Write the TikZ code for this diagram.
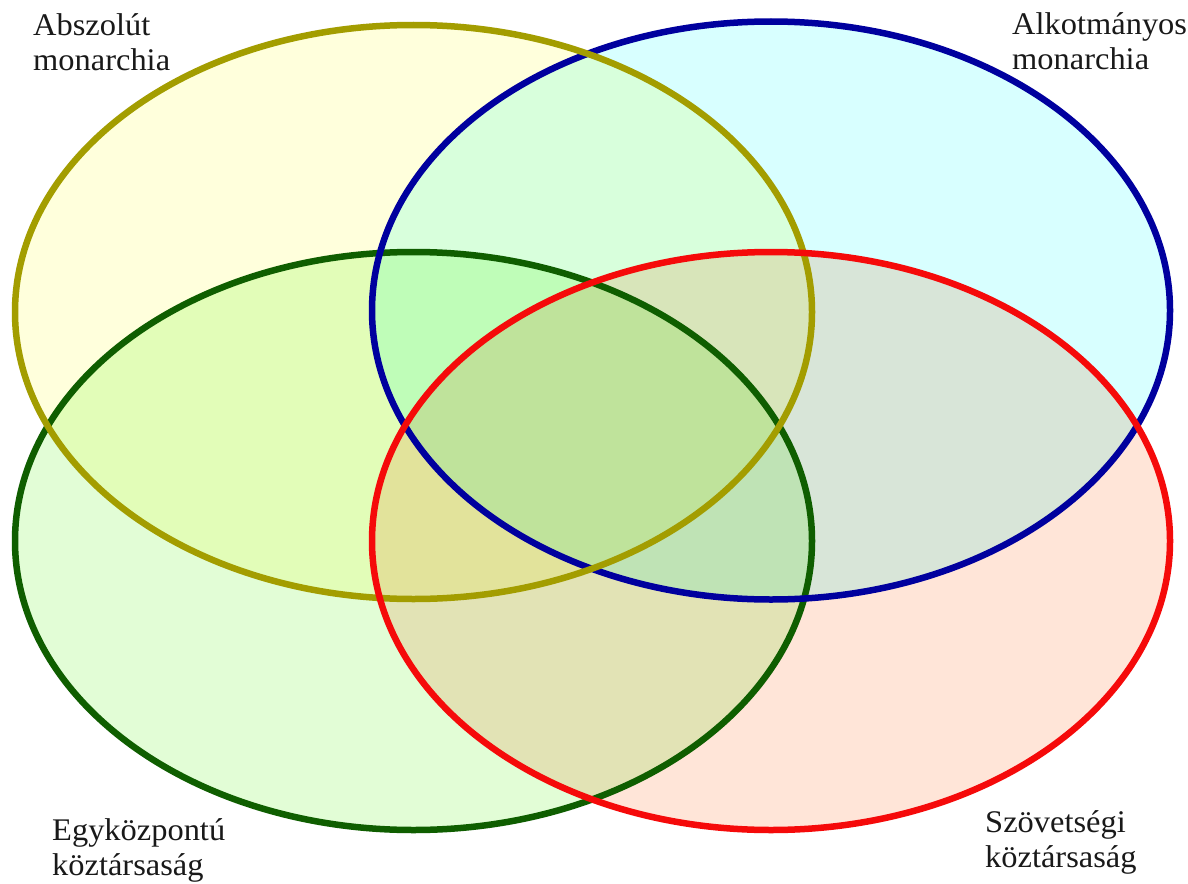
\documentclass[tikz,border=0pt]{standalone}
\usepackage{fontspec}
\setmainfont{Liberation Serif}
\definecolor{yfill}{HTML}{FFFFDC}
\definecolor{bfill}{HTML}{D8FFFF}
\definecolor{gfill}{HTML}{E2FDD6}
\definecolor{rfill}{HTML}{FFE5D8}
\definecolor{yline}{HTML}{A39D00}
\definecolor{bline}{HTML}{00009E}
\definecolor{gline}{HTML}{0F5E00}
\definecolor{rline}{HTML}{F50A0A}
\tikzset{
  ring/.style={line width=6.5pt},
  lbl/.style={anchor=base west, inner sep=0pt, font=\fontsize{31.5}{35}\selectfont, xscale=1.03, text=black!90}
}
\begin{document}
\begin{tikzpicture}[x=1pt,y=-1pt]
\useasboundingbox[fill=white] (0,0) rectangle (1188,883);
\begin{scope}[blend group=multiply]
  \fill[yfill] (413.5,312) ellipse [x radius=398.5, y radius=287];
  \fill[bfill] (771,310.5) ellipse [x radius=399, y radius=289];
  \fill[gfill] (413.5,541) ellipse [x radius=398.5, y radius=289];
  \fill[rfill] (771,541) ellipse [x radius=399, y radius=289];
\end{scope}
\draw[ring, gline] (413.5,541) ellipse [x radius=398.5, y radius=289];
\draw[ring, bline] (771,310.5) ellipse [x radius=399, y radius=289];
\draw[ring, yline] (413.5,312) ellipse [x radius=398.5, y radius=287];
\draw[ring, rline] (771,541) ellipse [x radius=399, y radius=289];
\node[lbl] (abs) at (33,36) {\vtop{\hbox{Abszolút}\hbox{monarchia}}};
\node[lbl] (alk) at (1012,35) {\vtop{\hbox{Alkotmányos}\hbox{monarchia}}};
\node[lbl] (egy) at (52,840) {\vtop{\hbox{Egyközpontú}\hbox{köztársaság}}};
\node[lbl] (szo) at (985,832) {\vtop{\hbox{Szövetségi}\hbox{köztársaság}}};
\end{tikzpicture}
\end{document}
